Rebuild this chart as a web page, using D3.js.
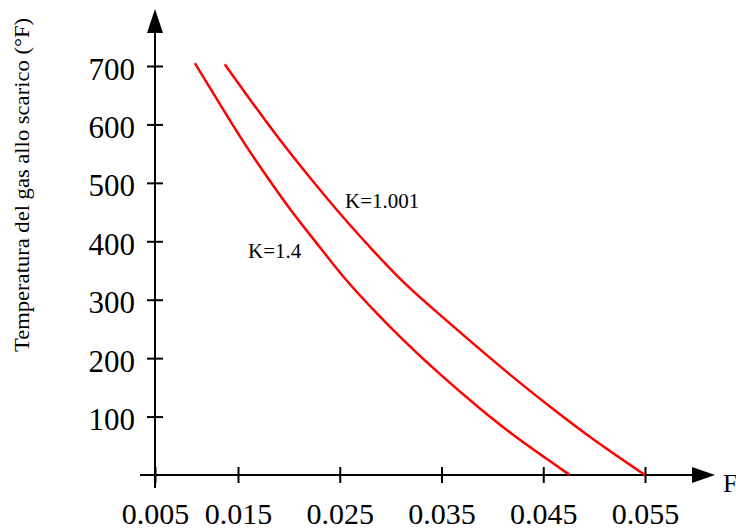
<!DOCTYPE html>
<html>
<head>
<meta charset="utf-8">
<script src="https://cdn.jsdelivr.net/npm/d3@7"></script>
<style>
  body { margin: 0; background: #fff; }
  svg { display: block; }
  svg text { font-family: "Liberation Serif", Tinos, "Times New Roman", "Nimbus Roman", "DejaVu Serif", serif; fill: #000; }
</style>
</head>
<body>
<div id="chart"></div>
<script>
// tick values
const xTicks = [0.005, 0.015, 0.025, 0.035, 0.045, 0.055];
const yTicks = [100, 200, 300, 400, 500, 600, 700];

// curve K=1.4 (F, temperature °F)
const k14F = [0.0098, 0.0131, 0.0154, 0.0175, 0.0201, 0.0231, 0.0253, 0.0280, 0.0312, 0.0349, 0.0388, 0.0424, 0.0454, 0.0476];
const k14T = [705, 628, 573, 519, 454, 389, 339, 288, 231, 171, 113, 63, 27, 0];

// curve K=1.001
const k1001F = [0.0134, 0.0162, 0.0191, 0.0221, 0.0250, 0.0280, 0.0309, 0.0339, 0.0375, 0.0414, 0.0457, 0.0499, 0.055];
const k1001T = [703, 642, 573, 508, 447, 389, 335, 288, 234, 176, 116, 60, 0];

const curveLabels = ["K=1.4", "K=1.001"];

const width = 736, height = 531;

const svg = d3.select("#chart").append("svg")
    .attr("width", width)
    .attr("height", height);

// the first interval on the original axis is drawn narrower than the others
const x = d3.scaleLinear()
    .domain([0.005, 0.015, 0.055])
    .range([155, 238, 645]);

const y = d3.scaleLinear()
    .domain([0, 700])
    .range([475, 66]);

const x0 = x(0.005), y0 = y(0);

// axis lines with arrow heads
svg.append("line")
    .attr("x1", 140).attr("x2", 694)
    .attr("y1", y0).attr("y2", y0)
    .attr("stroke", "#000").attr("stroke-width", 2);
svg.append("path")
    .attr("d", `M715,${y0} L692,${y0 - 8} L692,${y0 + 8} Z`)
    .attr("fill", "#000");

svg.append("line")
    .attr("x1", x0).attr("x2", x0)
    .attr("y1", 488).attr("y2", 31)
    .attr("stroke", "#000").attr("stroke-width", 2);
svg.append("path")
    .attr("d", `M${x0},9 L${x0 - 8},33 L${x0 + 8},33 Z`)
    .attr("fill", "#000");

// x axis ticks
const xAxis = svg.append("g")
    .attr("transform", `translate(0,${y0})`)
    .call(d3.axisBottom(x).tickValues(xTicks).tickSize(8)
        .tickFormat(d3.format(".3f")));
xAxis.select(".domain").remove();
xAxis.attr("font-family", null);
xAxis.selectAll(".tick line").attr("y1", -8).attr("stroke-width", 2);
xAxis.selectAll(".tick text")
    .attr("font-size", 30)
    .attr("dy", null)
    .attr("y", 49);

// y axis ticks
const yAxis = svg.append("g")
    .attr("transform", `translate(${x0},0)`)
    .call(d3.axisLeft(y).tickValues(yTicks).tickSize(8).tickPadding(12));
yAxis.select(".domain").remove();
yAxis.attr("font-family", null);
yAxis.selectAll(".tick line").attr("x1", 8).attr("stroke-width", 2);
yAxis.selectAll(".tick text")
    .attr("font-size", 31)
    .attr("dy", "0.42em");

// axis titles
svg.append("text")
    .attr("transform", "translate(29,185) rotate(-90)")
    .attr("text-anchor", "middle")
    .attr("font-size", 21)
    .attr("textLength", 334)
    .attr("lengthAdjust", "spacingAndGlyphs")
    .text("Temperatura del gas allo scarico (°F)");

svg.append("text")
    .attr("x", 723).attr("y", 492)
    .attr("font-size", 26)
    .text("F");

// curves
const line = d3.line()
    .x(d => x(d[0]))
    .y(d => y(d[1]))
    .curve(d3.curveBasis);

const series = [
    d3.zip(k14F, k14T),
    d3.zip(k1001F, k1001T)
];

svg.selectAll(".curve")
    .data(series)
    .enter()
    .append("path")
    .attr("class", "curve")
    .attr("d", line)
    .attr("fill", "none")
    .attr("stroke", "#ff0000")
    .attr("stroke-width", 2.5);

// curve labels
svg.append("text")
    .attr("x", 248).attr("y", 258)
    .attr("font-size", 21)
    .text(curveLabels[0]);
svg.append("text")
    .attr("x", 345).attr("y", 208)
    .attr("font-size", 21)
    .text(curveLabels[1]);
</script>
</body>
</html>
